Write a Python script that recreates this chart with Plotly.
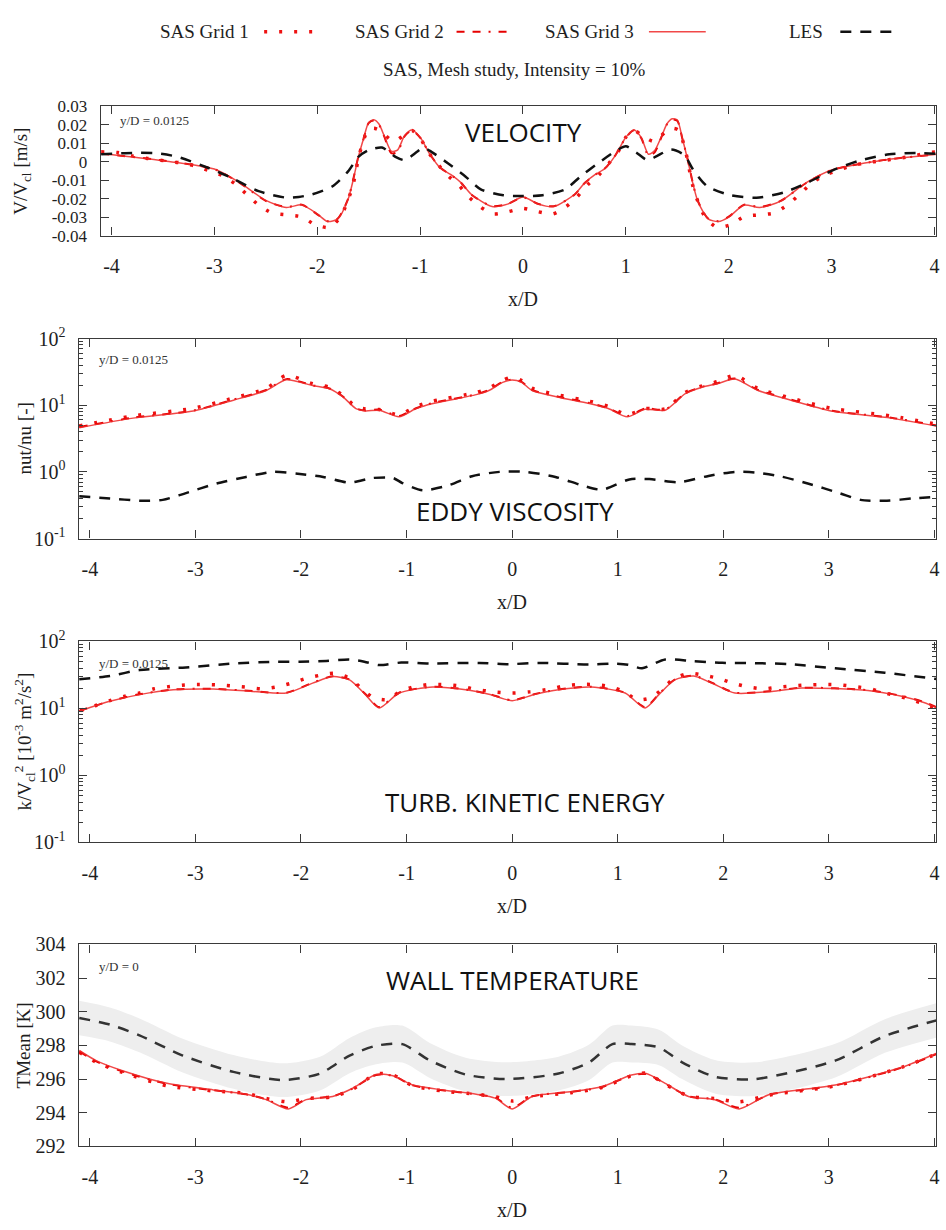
import plotly.graph_objects as go

W, H = 946, 1230
def fx(p): return p / W
def fy(p): return 1 - p / H

# ---------------- DATA ----------------
# Panel 1: velocity V/Vcl
XV3 = [-4.1,-3.5,-3.0,-2.75,-2.5,-2.3,-2.15,-2.0,-1.9,-1.8,-1.7,-1.65,-1.6,-1.55,-1.5,-1.45,-1.4,-1.35,-1.28,-1.22,
       -1.15,-1.08,-1.0,-0.9,-0.8,-0.7,-0.6,-0.5,-0.3,-0.15,0.0,
       0.15,0.3,0.5,0.6,0.7,0.8,0.9,1.0,1.08,1.15,1.22,1.28,1.35,1.4,1.45,1.5,1.55,1.6,1.65,1.7,
       1.8,1.9,2.0,2.15,2.3,2.5,2.75,3.0,3.5,4.1]
V3 = [0.0044,0.0005,-0.0040,-0.0115,-0.0210,-0.0248,-0.0234,-0.0283,-0.0324,-0.0310,
      -0.0204,-0.0098,0.0026,0.0124,0.0212,0.0226,0.0203,0.0141,0.0056,0.0062,
      0.0141,0.0171,0.0132,0.0035,-0.0036,-0.0071,-0.0115,-0.0178,-0.0243,-0.0230,-0.0191,
      -0.0230,-0.0243,-0.0178,-0.0115,-0.0071,-0.0036,0.0035,0.0132,0.0171,0.0130,
      0.0040,0.0060,0.0141,0.0205,0.0232,0.0225,0.0124,0.0012,-0.0115,-0.0215,
      -0.0310,-0.0324,-0.0300,-0.0235,-0.0248,-0.0215,-0.0115,-0.0045,0.0008,0.0044]
V2 = [0.0043,0.0006,-0.0041,-0.0117,-0.0212,-0.0246,-0.0233,-0.0285,-0.0322,-0.0308,
      -0.0202,-0.0096,0.0028,0.0122,0.0208,0.0222,0.0200,0.0138,0.0046,0.0052,
      0.0138,0.0169,0.0130,0.0036,-0.0035,-0.0072,-0.0116,-0.0179,-0.0241,-0.0229,-0.0193,
      -0.0229,-0.0241,-0.0179,-0.0116,-0.0072,-0.0035,0.0036,0.0130,0.0169,0.0127,
      0.0032,0.0050,0.0138,0.0202,0.0228,0.0221,0.0122,0.0014,-0.0113,-0.0213,
      -0.0308,-0.0322,-0.0298,-0.0233,-0.0246,-0.0214,-0.0117,-0.0046,0.0008,0.0043]
XV1 = [-4.10,-3.94,-3.80,-3.65,-3.49,-3.34,-3.19,-3.06,-2.92,-2.79,-2.68,-2.57,-2.44,-2.30,-2.15,-2.02,-1.88,-1.77,
       -1.71,-1.66,-1.63,-1.60,-1.56,-1.51,-1.45,-1.39,-1.26,-1.16,-1.08,-1.00,-0.93,-0.84,-0.74,-0.63,-0.53,-0.42,
       -0.29,-0.145,0.0,0.145,0.29,0.42,0.53,0.63,0.74,0.84,0.93,1.00,1.08,1.16,1.27,1.38,1.45,1.51,1.56,1.60,1.63,
       1.66,1.71,1.77,1.88,2.02,2.15,2.30,2.44,2.57,2.69,2.79,2.92,3.06,3.19,3.34,3.49,3.65,3.80,3.94,4.10]
V1 = [0.0053,0.0049,0.0031,0.0017,0.0005,-0.0006,-0.0023,-0.0048,-0.0076,-0.0124,
      -0.0180,-0.0235,-0.0278,-0.0288,-0.0299,-0.0341,-0.0356,-0.0296,-0.0221,-0.0142,
      -0.0071,0.0017,0.0097,0.0168,0.0180,0.0168,0.0110,0.0141,0.0168,0.0129,
      0.0058,-0.0006,-0.0071,-0.0124,-0.0189,-0.0243,-0.0283,-0.0271,-0.0253,
      -0.0271,-0.0283,-0.0243,-0.0189,-0.0124,-0.0071,-0.0006,0.0058,0.0132,0.0168,
      0.0141,0.0110,0.0158,0.0180,0.0171,0.0100,0.0008,-0.0080,-0.0150,-0.0230,
      -0.0299,-0.0354,-0.0341,-0.0297,-0.0288,-0.0278,-0.0235,-0.0177,-0.0124,-0.0076,
      -0.0048,-0.0023,-0.0006,0.0005,0.0017,0.0031,0.0049,0.0053]
XVL = [-4.1,-3.8,-3.56,-3.36,-3.05,-2.83,-2.57,-2.30,-2.18,-2.05,-1.85,-1.70,-1.60,-1.50,-1.37,-1.24,-1.15,-1.03,
       -0.97,-0.89,-0.73,-0.56,-0.41,-0.19,0.0,0.19,0.41,0.56,0.73,0.89,1.0,1.1,1.21,1.3,1.44,1.57,1.65,1.79,
       2.02,2.27,2.53,2.76,3.02,3.27,3.56,3.82,4.1]
VL = [0.0040,0.0047,0.0045,0.0026,-0.0036,-0.0089,-0.0160,-0.0195,-0.0191,-0.0177,
      -0.0133,-0.0053,0.0026,0.0062,0.0076,0.0026,0.0008,0.0053,0.0076,0.0053,
      -0.0009,-0.0080,-0.0150,-0.0182,-0.0186,-0.0182,-0.0150,-0.0080,-0.0009,0.0053,
      0.0083,0.0050,0.0008,0.0030,0.0065,0.0035,-0.0040,-0.0133,-0.0182,-0.0195,
      -0.0168,-0.0115,-0.0045,0.0005,0.0040,0.0047,0.0040]

# Panel 2: eddy viscosity nut/nu
XE = [-4.1,-3.59,-3.02,-2.64,-2.33,-2.14,-1.89,-1.73,-1.60,-1.48,-1.39,-1.26,-1.07,-0.91,-0.75,-0.34,-0.22,-0.09,
      0.0,0.09,0.19,0.44,0.73,0.91,1.09,1.26,1.45,1.64,1.80,1.94,2.11,2.33,2.64,3.02,3.59,4.1]
E3 = [4.6,6.4,8.2,11.9,16.6,24.1,19.7,17.6,13.2,8.9,8.2,8.4,6.7,8.9,10.6,14.4,16.6,22.0,
      23.9,22.0,16.6,13.2,10.6,8.9,6.7,8.7,8.4,14.9,18.6,20.9,24.7,16.6,11.9,8.2,6.4,4.6]
E2 = [4.7,6.5,8.3,12.1,16.9,24.6,19.9,17.8,13.4,9.0,8.3,8.6,6.9,9.0,10.8,14.6,16.9,22.4,
      24.3,22.4,16.9,13.4,10.8,9.0,6.9,8.9,8.6,15.1,18.9,21.2,25.1,16.9,12.1,8.3,6.5,4.7]
E1 = [4.9,6.9,9.0,12.8,17.8,28.0,21.0,18.5,14.0,9.5,8.8,8.6,7.2,9.6,11.5,15.5,18.0,23.5,
      26.5,23.5,18.0,14.2,11.5,9.6,7.2,8.9,8.8,15.5,19.5,22.5,28.0,17.8,12.8,9.0,6.9,4.9]
XEL = [-4.1,-3.81,-3.53,-3.31,-3.09,-2.80,-2.52,-2.27,-2.01,-1.79,-1.54,-1.32,-1.13,-1.04,-0.85,-0.60,-0.38,-0.12,
       0.13,0.41,0.66,0.85,1.11,1.30,1.58,1.86,2.11,2.30,2.55,2.80,3.10,3.30,3.55,3.80,4.1]
EL = [0.43,0.40,0.37,0.38,0.48,0.67,0.84,1.0,0.93,0.84,0.69,0.81,0.81,0.68,0.53,0.63,0.86,1.0,
      1.0,0.84,0.63,0.54,0.77,0.78,0.70,0.87,1.0,0.98,0.85,0.67,0.48,0.38,0.37,0.40,0.43]

# Panel 3: turbulent kinetic energy
XK = [-4.1,-3.81,-3.53,-3.21,-2.83,-2.46,-2.14,-1.89,-1.70,-1.54,-1.39,-1.26,-1.07,-0.75,-0.44,-0.22,
      0.0,0.22,0.44,0.75,1.07,1.26,1.39,1.54,1.72,1.89,2.11,2.46,2.74,3.37,3.69,3.90,4.1]
K3 = [9.1,12.8,16.1,19.0,19.5,18.0,17.0,23.9,29.9,26.7,16.1,10.2,17.0,20.9,19.0,16.3,
      13.1,16.3,19.0,20.9,17.0,10.2,16.1,26.7,30.5,24.0,17.0,18.0,20.2,18.6,15.2,12.3,9.1]
K2 = [9.2,12.9,16.3,19.2,19.7,18.2,17.2,24.2,30.3,27.0,16.4,10.5,17.2,21.1,19.2,16.5,
      13.3,16.5,19.2,21.1,17.2,10.5,16.4,27.0,30.8,24.3,17.2,18.2,20.4,18.8,15.4,12.5,9.2]
XK1 = [-4.09,-3.95,-3.81,-3.67,-3.53,-3.39,-3.24,-3.10,-2.96,-2.81,-2.67,-2.53,-2.38,-2.24,-2.09,-1.96,-1.82,-1.68,
       -1.53,-1.43,-1.31,-1.18,-1.06,-0.92,-0.78,-0.64,-0.50,-0.36,-0.17,0.0,0.17,0.36,0.50,0.64,0.78,0.92,1.06,
       1.18,1.31,1.43,1.53,1.68,1.82,1.96,2.09,2.24,2.38,2.53,2.67,2.81,2.96,3.10,3.24,3.39,3.53,3.67,3.81,3.95,4.09]
K1 = [9.3,11.0,13.1,15.2,17.0,19.7,21.3,22.5,22.8,22.5,21.8,20.9,19.7,20.9,23.9,27.9,31.3,33.5,
      27.9,20.0,14.4,13.6,18.0,21.3,22.8,22.8,21.8,19.5,17.7,17.0,17.7,19.5,21.8,22.8,22.8,21.3,18.0,
      13.6,14.4,20.0,27.9,33.5,31.3,27.9,23.9,20.9,19.7,20.9,21.8,22.5,22.8,22.5,21.3,19.7,17.0,15.2,13.1,11.0,9.3]
XKL = [-4.1,-3.81,-3.53,-3.09,-2.64,-2.27,-2.01,-1.76,-1.54,-1.40,-1.26,-1.05,-0.78,-0.31,-0.03,0.25,0.73,0.98,
       1.10,1.23,1.45,1.71,1.99,2.30,2.62,3.06,3.53,4.1]
KL = [27.4,30.5,37.5,41.0,47.0,49.7,49.7,51.3,53.9,50.0,44.5,48.5,47.0,47.9,45.9,47.9,45.4,46.8,
      45.0,39.8,53.9,51.0,48.0,47.5,45.9,39.8,34.2,26.5]

# Panel 4: wall temperature
XT = [-4.1,-3.94,-3.69,-3.27,-2.83,-2.52,-2.33,-2.12,-1.95,-1.70,-1.51,-1.29,-1.13,-0.94,-0.66,-0.34,-0.16,
      0.0,0.19,0.57,0.85,1.13,1.27,1.45,1.67,1.92,2.15,2.43,3.06,3.69,4.1]
T3 = [297.7,297.1,296.5,295.75,295.36,295.1,294.78,294.23,294.78,294.97,295.46,296.27,296.2,295.65,295.36,295.1,294.87,
      294.23,294.97,295.26,295.55,296.24,296.33,295.75,294.97,294.78,294.23,295.07,295.65,296.7,297.75]
T2 = [297.65,297.05,296.45,295.72,295.34,295.1,294.8,294.3,294.8,294.98,295.44,296.25,296.2,295.63,295.34,295.1,294.9,
      294.3,294.98,295.25,295.53,296.22,296.31,295.73,294.98,294.8,294.3,295.06,295.63,296.68,297.7]
T1 = [297.6,297.0,296.4,295.6,295.3,295.15,294.85,294.65,294.85,294.95,295.4,296.3,296.25,295.6,295.3,295.1,294.95,
      294.7,294.95,295.2,295.5,296.2,296.35,295.7,295.0,294.85,294.65,295.05,295.6,296.7,297.7]
XTL = [-4.1,-3.81,-3.53,-3.12,-2.64,-2.17,-1.82,-1.54,-1.29,-1.04,-0.78,-0.44,-0.06,0.44,0.73,0.95,1.13,1.39,
       1.61,1.92,2.30,3.06,3.53,4.1]
TL = [299.63,299.24,298.6,297.4,296.43,295.94,296.33,297.4,297.98,298.08,297.11,296.27,296.0,296.33,297.0,298.08,
      298.08,297.88,297.0,296.14,296.0,297.1,298.56,299.63]
TL_hi = [300.65,300.25,299.6,298.4,297.43,296.94,297.33,298.45,299.08,299.18,298.15,297.27,297.0,297.33,298.05,
         299.18,299.18,298.93,298.0,297.14,297.0,298.1,299.56,300.65]
TL_lo = [298.6,298.24,297.6,296.4,295.43,294.94,295.33,296.35,296.88,296.98,296.07,295.27,295.0,295.33,295.95,
         296.98,296.98,296.83,296.0,295.14,295.0,296.1,297.56,298.6]

X_TICKS = [-4, -3, -2, -1, 0, 1, 2, 3, 4]
V_TICKS = [-0.04, -0.03, -0.02, -0.01, 0, 0.01, 0.02, 0.03]
V_TICKTEXT = ["-0.04", "-0.03", "-0.02", "-0.01", "0", "0.01", "0.02", "0.03"]
LOG_TICKS = [0.1, 1, 10, 100]
LOG_TICKTEXT = ["10<sup>-1</sup>", "10<sup>0</sup>", "10<sup>1</sup>", "10<sup>2</sup>"]
T_TICKS = [292, 294, 296, 298, 300, 302, 304]

SERIES = ["SAS Grid 1", "SAS Grid 2", "SAS Grid 3", "LES"]

# ---------------- STYLE ----------------
SERIF = "Liberation Serif"
SANS = "Open Sans"
AX = "#3a3a3a"
TXT = "#1e1e1e"
C1 = dict(color="#ee1111", width=3.5, dash="3px,12px")
C2 = dict(color="#e60000", width=2, dash="8px,8px,8px,8px,2px,8px")
C3 = dict(color="rgba(238,40,40,0.85)", width=1.5)
CL = dict(color="#111111", width=2.5, dash="11px,9px")

fig = go.Figure()

def add(xs, ys, line, ax, name):
    fig.add_trace(go.Scatter(x=xs, y=ys, mode="lines", line=dict(shape="spline", smoothing=0.7, **line),
                             xaxis="x" + ax, yaxis="y" + ax, name=name, showlegend=False, hoverinfo="skip"))

# Panel 4 band first
fig.add_trace(go.Scatter(x=XTL, y=TL_lo, mode="lines", line=dict(width=0, shape="spline", smoothing=0.8),
                         xaxis="x4", yaxis="y4", showlegend=False, hoverinfo="skip"))
fig.add_trace(go.Scatter(x=XTL, y=TL_hi, mode="lines", line=dict(width=0, shape="spline", smoothing=0.8),
                         fill="tonexty", fillcolor="#eeeeee",
                         xaxis="x4", yaxis="y4", showlegend=False, hoverinfo="skip"))

panels = [
    ("", XV1, V1, XV3, V2, XV3, V3, XVL, VL),
    ("2", XE, E1, XE, E2, XE, E3, XEL, EL),
    ("3", XK1, K1, XK, K2, XK, K3, XKL, KL),
    ("4", XT, T1, XT, T2, XT, T3, XTL, TL),
]
for ax, x1, y1, x2, y2, x3, y3, xl, yl in panels:
    add(x1, y1, C1, ax, SERIES[0])
    add(x2, y2, C2, ax, SERIES[1])
    add(x3, y3, C3, ax, SERIES[2])
    les_line = dict(CL)
    if ax == "4":
        les_line["color"] = "#333333"
    add(xl, yl, les_line, ax, SERIES[3])

# ---------------- AXES ----------------
PLOT_R = 939
doms = {
    "": ([101, PLOT_R], [95, 227]),
    "2": ([79, PLOT_R], [332, 536]),
    "3": ([79, PLOT_R], [641, 846]),
    "4": ([79, PLOT_R], [950, 1156]),
}
tickfont = dict(family=SERIF, size=20, color=TXT)
minor_vals = [m * d for d in (0.1, 1, 10) for m in range(2, 10)]
layout = {}
for ax, (xd, yd) in doms.items():
    xname = "xaxis" + ax
    yname = "yaxis" + ax
    layout[xname] = dict(domain=[fx(xd[0]), fx(xd[1])], range=[-4.105, 4.015], anchor="y" + ax,
                         tickmode="array", tickvals=X_TICKS, ticktext=[str(t) for t in X_TICKS],
                         ticks="inside", ticklen=8, tickwidth=1.2, tickcolor=AX,
                         showline=True, linecolor=AX, linewidth=1.3, mirror="ticks",
                         showgrid=False, zeroline=False, tickfont=tickfont, ticklabelstandoff=12)
    ycfg = dict(domain=[fy(yd[1]), fy(yd[0])], anchor="x" + ax,
                ticks="inside", ticklen=8, tickwidth=1.2, tickcolor=AX,
                showline=True, linecolor=AX, linewidth=1.3, mirror="ticks",
                showgrid=False, zeroline=False, tickfont=tickfont, ticklabelstandoff=8)
    if ax == "":
        ycfg.update(range=[-0.04, 0.03], tickmode="array", tickvals=V_TICKS, ticktext=V_TICKTEXT,
                    tickfont=dict(family=SERIF, size=17, color=TXT), ticklabelstandoff=9)
    elif ax in ("2", "3"):
        ycfg.update(type="log", range=[-1, 2], tickmode="array", tickvals=LOG_TICKS, ticktext=LOG_TICKTEXT,
                    minor=dict(ticks="inside", ticklen=4, tickwidth=1, tickcolor=AX,
                               tickmode="array", tickvals=minor_vals, showgrid=False))
    else:
        ycfg.update(range=[292, 304], tickmode="array", tickvals=T_TICKS, ticktext=[str(t) for t in T_TICKS])
    layout[yname] = ycfg

# ---------------- ANNOTATIONS ----------------
ann = []
def text(x, y, s, size=20, family=SERIF, xanchor="center", angle=0, color=TXT):
    ann.append(dict(x=fx(x), y=fy(y), xref="paper", yref="paper", text=s, showarrow=False,
                    xanchor=xanchor, yanchor="middle", textangle=angle,
                    font=dict(family=family, size=size, color=color)))

# legend (text to the left of the sample, as in the original)
leg_text_right = [252, 447, 638, 828]
leg_line = [(265, 318), (458, 515), (651, 708), (843, 903)]
leg_styles = [C1, C2, C3, CL]
LEG_Y = 19
shapes = []
for name, xr, (a, b), st in zip(SERIES, leg_text_right, leg_line, leg_styles):
    text(xr, LEG_Y, name, xanchor="right", size=19)
    shapes.append(dict(type="line", xref="paper", yref="paper", x0=fx(a), x1=fx(b), y0=fy(LEG_Y), y1=fy(LEG_Y),
                       line=dict(color=st["color"], width=st["width"], dash=st.get("dash", "solid"))))
text(516, 58, "SAS, Mesh study, Intensity = 10%", size=19)

# x titles
for y in (292, 601, 911, 1221):
    text(525 if y == 292 else 514, y, "x/D")
# y titles
text(22, 161, "V/V<sub>cl</sub> [m/s]", angle=-90, size=19)
text(25, 434, "nut/nu [-]", angle=-90, size=19)
text(25, 743, "k/V<sub>cl</sub><sup>2</sup> [10<sup>-3</sup> m<sup>2</sup>/s<sup>2</sup>]", angle=-90, size=19)
text(24, 1053, "TMean [K]", angle=-90, size=19)
# y/D notes
text(118, 110, "y/D = 0.0125", size=13, xanchor="left", color="#333")
text(97, 353, "y/D = 0.0125", size=13, xanchor="left", color="#333")
text(97, 663, "y/D = 0.0125", size=13, xanchor="left", color="#333")
text(97, 972, "y/D = 0", size=13, xanchor="left", color="#333")
# panel labels
text(525, 121, "VELOCITY", size=26, family=SANS, color="#111")
text(517, 508, "EDDY VISCOSITY", size=26, family=SANS, color="#111")
text(527, 805, "TURB. KINETIC ENERGY", size=26, family=SANS, color="#111")
text(514, 986, "WALL TEMPERATURE", size=26, family=SANS, color="#111")

fig.update_layout(width=W, height=H, margin=dict(l=0, r=0, t=0, b=0),
                  paper_bgcolor="white", plot_bgcolor="white", showlegend=False,
                  annotations=ann, shapes=shapes, **layout)
fig.write_html("out.html")
